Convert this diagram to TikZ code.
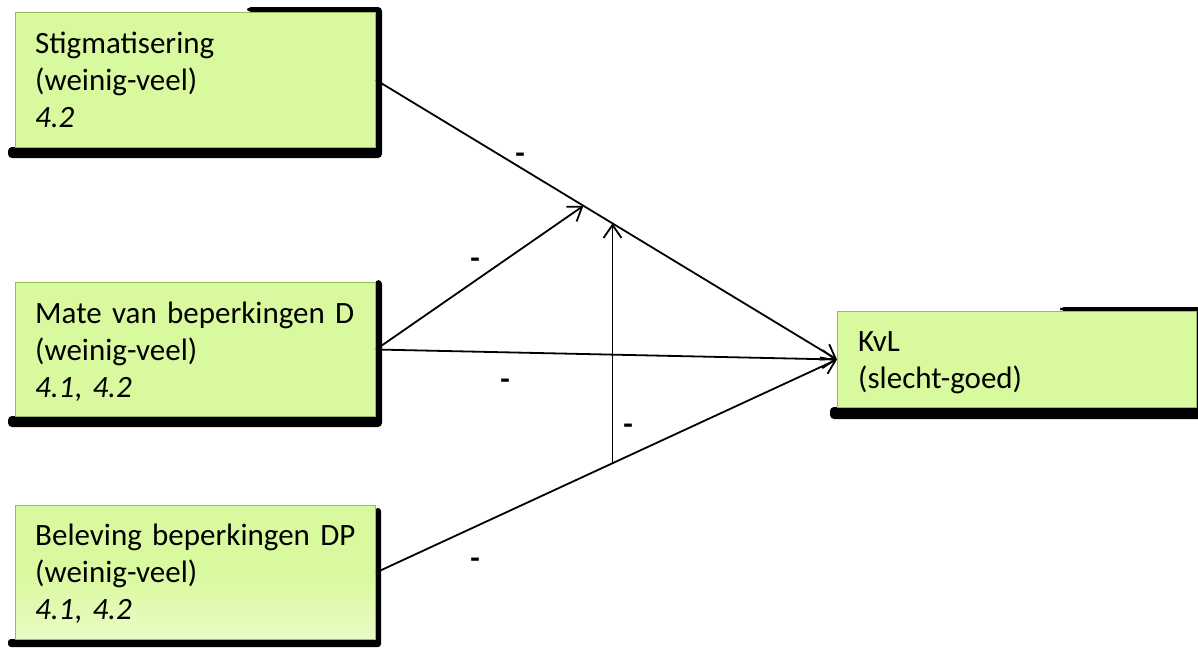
\documentclass[tikz,border=0pt]{standalone}
\usepackage{fontspec}
\setmainfont{Carlito}
\usetikzlibrary{arrows.meta,calc}
\definecolor{boxgreen}{HTML}{D9F99E}
\definecolor{boxedge}{HTML}{9BBB59}
\colorlet{fadeA}{boxgreen!75!white}
\colorlet{fadeB}{boxgreen!25!white}
\colorlet{fadeC}{boxgreen!55!white}
\pgfdeclareverticalshading{greenfade}{100bp}{%
  color(0bp)=(fadeA); color(6bp)=(fadeB); color(22bp)=(fadeC);
  color(50bp)=(boxgreen); color(100bp)=(boxgreen)}
% box text: 31pt on 37pt lines, word spaces kept at their natural width
\newcommand\boxfont{\fontsize{31}{37}\selectfont\frenchspacing
  \spaceskip=\fontdimen2\font\relax}
\begin{document}
\begin{tikzpicture}[x=1pt,y=-1pt,
  shadowband/.style={fill=black, rounded corners=4pt},
  factor/.style={rectangle, draw=boxedge, fill=boxgreen, line width=1pt,
    inner sep=0pt, anchor=north west},
  boxtext/.style={anchor=base west, align=left, text width=340pt, inner sep=0pt,
    font=\boxfont},
  sign/.style={inner sep=0pt, font=\fontsize{31}{37}\selectfont\bfseries},
  link/.style={line width=1.8pt,
    -{Straight Barb[length=13pt,width=18pt,line width=1.8pt]}}]
\useasboundingbox (0,0) rectangle (1198,649);

% drop shadows behind the boxes
\fill[shadowband] (247,7) -- (382,7) -- (382,158) -- (8,158) -- (8,147)
  -- (375,147) -- (375,12) -- (247,12) -- cycle;
\fill[shadowband] (375,280) -- (382,280) -- (382,427) -- (8,427) -- (8,416)
  -- (375,416) -- cycle;
\fill[shadowband, rounded corners=3pt] (375,508) -- (381,508) -- (381,647)
  -- (8,647) -- (8,639) -- (375,639) -- cycle;
\fill[shadowband] (1060,307) -- (1205,307) -- (1205,419) -- (830,419)
  -- (830,407) -- (1196,407) -- (1196,311) -- (1060,311) -- cycle;

% factor boxes
\node[factor, minimum width=360pt, minimum height=135pt] (stig) at (15,12) {};
\node[factor, minimum width=360pt, minimum height=134pt] (mate) at (15,282) {};
\node[factor, shading=greenfade, minimum width=360pt, minimum height=134pt] (bel) at (15,505) {};
\node[factor, minimum width=359pt, minimum height=96pt] (kvl) at (837,311) {};

\node[boxtext] (stigtext) at ($(stig.north west)+(20,41)$)
  {Stigmatisering\\(weinig-veel)\\\textit{4.2}};
\node[boxtext] (matetext) at ($(mate.north west)+(20,41)$)
  {Mate van beperkingen D\\(weinig-veel)\\\textit{4.1}, \textit{4.2}};
\node[boxtext] (beltext) at ($(bel.north west)+(20,40)$)
  {Beleving beperkingen DP\\(weinig-veel)\\\textit{4.1}, \textit{4.2}};
\node[boxtext] (kvltext) at ($(kvl.north west)+(21,40)$)
  {KvL\\(slecht-goed)};

% paths
\draw[link] (stig.east) -- (kvl.west);
\draw[link] (mate.east) -- (kvl.west);
\draw[link] (bel.east) -- (kvl.west);
\coordinate (hitA) at ($(stig.east)!0.45!(kvl.west)$);
\coordinate (hitB) at ($(stig.east)!0.513!(kvl.west)$);
\coordinate (footB) at ($(bel.east)!0.513!(kvl.west)$);
\draw[link] (mate.east) -- (hitA);
\draw[link] (footB) -- (hitB);

% signs
\node[sign] (s1) at (520,158) {-};
\node[sign] (s2) at (475,263) {-};
\node[sign] (s3) at (505,384) {-};
\node[sign] (s4) at (628,429) {-};
\node[sign] (s5) at (475,563) {-};
\end{tikzpicture}
\end{document}
